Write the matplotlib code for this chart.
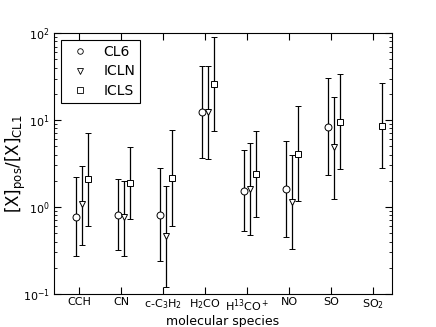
import matplotlib
matplotlib.use('Agg')
import matplotlib.pyplot as plt
from matplotlib.lines import Line2D
import numpy as np

plt.rcParams['mathtext.default'] = 'regular'

species = ['CCH', 'CN', 'c-C$_3$H$_2$', 'H$_2$CO', 'H$^{13}$CO$^+$', 'NO', 'SO', 'SO$_2$']

# ratio, upper end, lower end (nan = not detected)
cl6 = [0.77, 0.815, 0.815, 12.3, 1.53, 1.6, 8.4, np.nan]
cl6_hi = [2.19, 2.08, 2.83, 41.4, 4.48, 5.7, 30.6, np.nan]
cl6_lo = [0.275, 0.318, 0.238, 3.63, 0.53, 0.45, 2.33, np.nan]

icln = [1.07, 0.76, 0.468, 12.3, 1.62, 1.14, 4.9, np.nan]
icln_hi = [2.98, 2.0, 1.73, 41.4, 5.4, 3.96, 18.5, np.nan]
icln_lo = [0.37, 0.275, 0.12, 3.53, 0.48, 0.33, 1.25, np.nan]

icls = [2.08, 1.9, 2.14, 25.9, 2.38, 4.1, 9.5, 8.5]
icls_hi = [7.1, 4.86, 7.6, 89.0, 7.5, 14.4, 33.5, 26.4]
icls_lo = [0.6, 0.73, 0.6, 7.5, 0.76, 1.16, 2.73, 2.79]

x = np.arange(len(species))

fig = plt.figure(figsize=(4.36, 3.27), dpi=100)
ax = fig.add_axes([0.124, 0.101, 0.775, 0.798])

handles = []
def plotset(dx, val, hi, lo, marker, label):
	val = np.array(val)
	err = [val - np.array(lo), np.array(hi) - val]
	ax.errorbar(x + dx, val, yerr=err, fmt=marker, mfc='white', mec='black',
		ms=5, ecolor='black', elinewidth=0.9, capsize=2.5, capthick=0.9,
		mew=0.7)
	handles.append(Line2D([], [], ls='none', marker=marker, mfc='white',
		mec='black', ms=4, mew=0.6, label=label))

plotset(-0.08, cl6, cl6_hi, cl6_lo, 'o', 'CL6')
plotset(0.06, icln, icln_hi, icln_lo, 'v', 'ICLN')
plotset(0.21, icls, icls_hi, icls_lo, 's', 'ICLS')

ax.set_yscale('log')
ax.set_ylim(0.1, 100)
ax.set_xlim(-0.6, 7.45)
ax.set_xticks(x)
ax.set_xticklabels(species, fontsize=8)
ax.tick_params(axis='y', labelsize=8)
ax.tick_params(which='both', direction='in', top=True, right=True)
ax.tick_params(which='major', length=5, pad=3)
ax.tick_params(axis='x', pad=2.5)
ax.tick_params(which='minor', length=2.5)
ax.set_xlabel('molecular species', fontsize=9)
ax.set_ylabel('[X]$_{pos}$/[X]$_{CL1}$', fontsize=12)
ax.xaxis.set_label_coords(0.5, -0.08)
ax.yaxis.set_label_coords(-0.077, 0.5)

leg = ax.legend(handles=handles, loc='upper left', numpoints=1, fontsize=10,
	fancybox=False, framealpha=1, edgecolor='black', borderpad=0.35,
	labelspacing=0.4, handletextpad=0.7, borderaxespad=0.5)
leg.get_frame().set_linewidth(0.8)

plt.savefig('out.png', dpi=100)
plt.close()
